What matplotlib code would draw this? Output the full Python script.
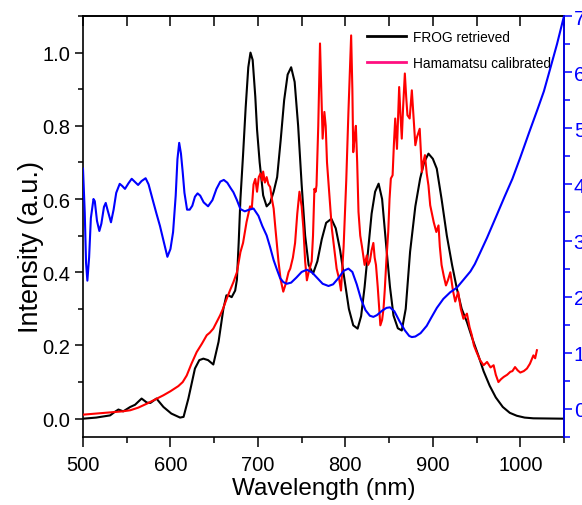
import matplotlib
matplotlib.use("Agg")
import matplotlib.pyplot as plt
from matplotlib.lines import Line2D
from matplotlib.ticker import MultipleLocator

plt.rcParams["font.family"] = ["Liberation Sans", "DejaVu Sans"]

# FROG retrieved spectrum (left axis)
frog_wl = [500, 515, 531, 536, 540.5, 546, 554, 559.5, 567, 573, 577, 584, 592, 601,
           611, 615, 620.5, 628, 633, 637.6, 643, 649, 655, 660.5, 664, 667, 670, 674,
           676, 678, 680, 683, 686, 689, 691.5, 694, 697, 699, 702, 706, 710, 714, 718,
           722, 726, 730, 734, 738, 742, 746, 750, 754, 758, 763, 768, 773, 778, 784,
           789, 794, 799, 804, 809, 814, 818, 822, 826, 830, 834, 838, 842, 847, 851,
           855, 860, 864.5, 869, 874, 880, 885.5, 890, 895, 900, 904.5, 910, 916, 922,
           927.5, 933, 939, 945, 952, 958, 965, 972, 980, 988, 996, 1005, 1015, 1050]
frog_int = [0.0, 0.003, 0.009, 0.018, 0.025, 0.02, 0.032, 0.038, 0.055, 0.044, 0.043,
            0.055, 0.032, 0.014, 0.003, 0.005, 0.055, 0.137, 0.16, 0.164, 0.16, 0.148,
            0.21, 0.30, 0.337, 0.336, 0.332, 0.35, 0.38, 0.48, 0.60, 0.72, 0.85, 0.96,
            1.0, 0.98, 0.88, 0.79, 0.70, 0.61, 0.58, 0.59, 0.62, 0.66, 0.76, 0.87, 0.94,
            0.96, 0.92, 0.80, 0.64, 0.50, 0.42, 0.396, 0.43, 0.49, 0.535, 0.546, 0.52,
            0.46, 0.38, 0.30, 0.255, 0.246, 0.28, 0.36, 0.46, 0.56, 0.62, 0.642, 0.60,
            0.464, 0.36, 0.282, 0.247, 0.241, 0.30, 0.456, 0.58, 0.656, 0.70, 0.724,
            0.71, 0.683, 0.60, 0.50, 0.42, 0.355, 0.30, 0.264, 0.22, 0.173, 0.13, 0.09,
            0.058, 0.032, 0.016, 0.008, 0.003, 0.001, 0.0]

# Hamamatsu calibrated spectrum (left axis)
hama_wl = [500, 510, 520, 535, 545, 554, 563, 573, 582, 592, 600, 609, 614, 618.6, 624,
           630, 636, 641.5, 645, 649, 653, 656.7, 660, 664.4, 668, 672, 676, 680, 683,
           687, 691, 693, 695, 697, 699, 701, 703, 705, 706, 708, 710, 712, 714, 716,
           718, 720, 723.5, 726, 729, 732, 735, 737, 740, 742.5, 745, 747.5, 750, 752,
           754, 756, 758, 761.5, 763, 764.6, 766, 767, 769, 771, 772.5, 774, 776, 777.5,
           779, 782, 784.5, 787, 790, 793, 795, 798, 801, 803.5, 806.6, 808, 809, 811,
           812, 813.5, 815, 817, 819, 822, 824.5, 826, 828, 830, 832, 833.5, 835, 837,
           840, 842, 843.6, 845, 847, 849, 850.5, 852, 854, 855.5, 857, 859, 861.5, 863,
           864.5, 866, 868, 869.5, 871, 873.5, 876, 878, 880, 882, 885, 887.5, 889, 891,
           893, 895, 897, 899, 901, 904, 906.5, 908, 910, 912.5, 915, 917.5, 920, 923,
           925.6, 929, 932, 935, 939, 942, 944.6, 947, 950, 954, 958, 962, 966, 969.5,
           972, 975, 978, 981, 985, 988.6, 991, 994, 997, 1000, 1004, 1007.6, 1011,
           1015, 1017, 1019]
hama_int = [0.011, 0.013, 0.015, 0.018, 0.02, 0.023, 0.03, 0.041, 0.052, 0.064, 0.075,
            0.089, 0.10, 0.118, 0.15, 0.182, 0.205, 0.228, 0.235, 0.246, 0.265, 0.282,
            0.30, 0.328, 0.35, 0.373, 0.40, 0.455, 0.48, 0.537, 0.58, 0.574, 0.64, 0.655,
            0.62, 0.66, 0.67, 0.65, 0.675, 0.645, 0.66, 0.64, 0.633, 0.60, 0.574, 0.52,
            0.43, 0.38, 0.347, 0.37, 0.40, 0.41, 0.44, 0.48, 0.56, 0.62, 0.58, 0.52,
            0.43, 0.378, 0.40, 0.43, 0.50, 0.628, 0.62, 0.637, 0.80, 1.025, 0.90, 0.765,
            0.838, 0.80, 0.70, 0.60, 0.52, 0.47, 0.41, 0.38, 0.35, 0.47, 0.65, 0.838,
            1.047, 0.90, 0.728, 0.78, 0.80, 0.70, 0.565, 0.50, 0.47, 0.42, 0.446, 0.42,
            0.43, 0.46, 0.48, 0.44, 0.42, 0.36, 0.255, 0.27, 0.30, 0.35, 0.437, 0.51,
            0.60, 0.656, 0.665, 0.75, 0.82, 0.737, 0.906, 0.83, 0.765, 0.85, 0.943, 0.88,
            0.829, 0.82, 0.897, 0.82, 0.747, 0.77, 0.792, 0.674, 0.70, 0.72, 0.67, 0.637,
            0.583, 0.56, 0.537, 0.51, 0.528, 0.47, 0.42, 0.39, 0.364, 0.38, 0.40, 0.35,
            0.32, 0.346, 0.30, 0.273, 0.287, 0.25, 0.228, 0.20, 0.182, 0.16, 0.146,
            0.155, 0.14, 0.146, 0.12, 0.10, 0.108, 0.114, 0.12, 0.128, 0.13, 0.141,
            0.132, 0.126, 0.13, 0.137, 0.15, 0.173, 0.165, 0.187]

# spectral phase (right axis)
phase_wl = [500, 502, 503.5, 505, 507, 509, 512, 513.5, 516, 518.7, 521, 524, 526, 528,
            532, 535, 538, 542, 545, 548, 552, 555.7, 559, 563, 567, 571.6, 575, 580.5,
            584, 588, 592, 596.5, 600, 603, 606, 608, 610, 612, 614, 616, 619, 622, 625,
            628, 631, 634, 638, 643, 648, 652.6, 657, 661, 665, 669, 672, 676, 680, 685,
            690, 695, 700.6, 705, 710, 714, 718, 721.6, 725.4, 729, 733, 738, 744, 750,
            756, 762, 768, 774, 780.7, 786, 792, 798, 803.5, 808, 813, 818, 823, 828,
            832, 836, 842, 847, 851, 856, 862, 868, 873, 876, 880, 886, 893, 898, 904.6,
            912, 920, 927.5, 935, 943, 948, 954, 962, 973, 982, 991, 1000, 1010, 1020,
            1027, 1034, 1042, 1050]
phase = [4.28, 3.5, 2.6, 2.285, 2.7, 3.4, 3.74, 3.7, 3.35, 3.17, 3.3, 3.6, 3.67, 3.55,
         3.325, 3.55, 3.85, 4.01, 3.97, 3.92, 4.02, 4.1, 4.05, 3.99, 4.06, 4.11, 4.0,
         3.68, 3.48, 3.26, 3.0, 2.71, 2.85, 3.15, 3.8, 4.45, 4.74, 4.55, 4.22, 3.85,
         3.55, 3.55, 3.62, 3.78, 3.84, 3.80, 3.68, 3.61, 3.72, 3.92, 4.05, 4.08, 4.03,
         3.93, 3.86, 3.72, 3.56, 3.52, 3.55, 3.57, 3.44, 3.26, 3.09, 2.88, 2.65, 2.49,
         2.33, 2.26, 2.23, 2.25, 2.34, 2.44, 2.48, 2.43, 2.33, 2.23, 2.19, 2.22, 2.33,
         2.46, 2.5, 2.44, 2.22, 1.95, 1.76, 1.66, 1.64, 1.67, 1.75, 1.80, 1.81, 1.74,
         1.56, 1.40, 1.30, 1.28, 1.29, 1.35, 1.48, 1.62, 1.80, 1.96, 2.08, 2.16, 2.30,
         2.45, 2.58, 2.78, 3.05, 3.45, 3.78, 4.1, 4.48, 4.92, 5.35, 5.66, 6.05, 6.5, 7.0]

fig = plt.figure(figsize=(5.82, 5.06), dpi=100)
ax = fig.add_axes([0.1426, 0.1344, 0.8265, 0.832])

ax.plot(frog_wl, frog_int, color="black", lw=1.5, zorder=3)
ax.plot(hama_wl, hama_int, color="red", lw=1.5, zorder=4)

ax.set_xlim(500, 1050)
ax.set_ylim(-0.05, 1.10)
ax.xaxis.set_major_locator(MultipleLocator(100))
ax.xaxis.set_minor_locator(MultipleLocator(50))
ax.yaxis.set_major_locator(MultipleLocator(0.2))
ax.yaxis.set_minor_locator(MultipleLocator(0.1))
ax.yaxis.set_major_formatter(plt.FormatStrFormatter("%.1f"))
ax.tick_params(axis="both", which="both", direction="out", width=1.1, labelsize=14.5)
ax.tick_params(axis="x", which="major", length=7, pad=6)
ax.tick_params(axis="x", which="minor", length=4)
ax.tick_params(axis="y", which="major", length=6, pad=3)
ax.tick_params(axis="y", which="minor", length=3.5)
for s in ax.spines.values():
    s.set_linewidth(1.2)

top = ax.secondary_xaxis("top")
top.xaxis.set_major_locator(MultipleLocator(100))
top.xaxis.set_minor_locator(MultipleLocator(50))
top.tick_params(which="both", direction="in", length=7, width=1.1, labeltop=False)
top.spines["top"].set_linewidth(1.2)

ax.set_xlabel("Wavelength (nm)", fontsize=17.5, labelpad=2)
ax.set_ylabel("Intensity (a.u.)", fontsize=19.5)
ax.yaxis.set_label_coords(-0.081, 0.454)

leg = ax.legend(
    [Line2D([], [], color="black", lw=2), Line2D([], [], color="#ff0f80", lw=2)],
    ["FROG retrieved", "Hamamatsu calibrated"],
    loc="upper left", bbox_to_anchor=(0.579, 0.981), frameon=False,
    fontsize=9.9, handlelength=2.8, handletextpad=0.55, labelspacing=0.9,
    borderaxespad=0,
)

ax2 = ax.twinx()
ax2.plot(phase_wl, phase, color="blue", lw=1.5)
ax2.set_ylim(-0.5, 7.0)
ax2.yaxis.set_major_locator(MultipleLocator(1))
ax2.yaxis.set_minor_locator(MultipleLocator(0.5))
ax2.tick_params(axis="y", which="both", direction="out", colors="blue",
                width=1.1, labelsize=15, pad=1)
ax2.tick_params(axis="y", which="major", length=6)
ax2.tick_params(axis="y", which="minor", length=4)
ax2.spines["right"].set_color("blue")
ax2.spines["right"].set_linewidth(1.2)
for k in ("left", "top", "bottom"):
    ax2.spines[k].set_visible(False)

fig.savefig("out.png", dpi=100)
